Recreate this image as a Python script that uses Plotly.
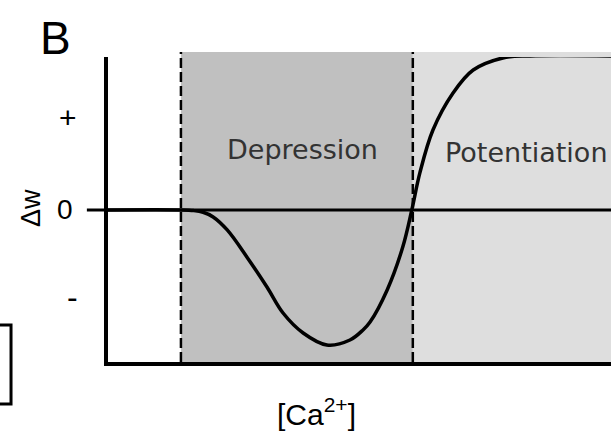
import plotly.graph_objects as go

# Calcium-dependent plasticity curve: change in synaptic weight vs [Ca2+]
ca = [0.0, 0.145, 0.170, 0.189, 0.209, 0.237, 0.276, 0.316, 0.348, 0.388,
      0.435, 0.481, 0.507, 0.521, 0.555, 0.586, 0.604, 0.620, 0.646, 0.686,
      0.726, 0.785, 0.839, 1.0]
dw = [0.0, 0.0, -0.004, -0.015, -0.045, -0.129, -0.303, -0.497, -0.665, -0.794,
      -0.871, -0.839, -0.774, -0.723, -0.516, -0.239, 0.0, 0.239, 0.516, 0.755,
      0.903, 0.981, 0.994, 0.994]

theta_d = 0.145   # depression threshold
theta_p = 0.606   # potentiation threshold

tick_vals = [0.594, 0.0, -0.56]
tick_text = ["+", "0", "-"]

W, H = 611, 439
L, R, T, B = 108, 0, 57, 77

fig = go.Figure()

fig.add_trace(go.Scatter(
    x=ca, y=dw, mode="lines",
    line=dict(color="black", width=3.5, shape="spline", smoothing=1.0),
    cliponaxis=False, hoverinfo="skip", showlegend=False,
))

shapes = [
    # shaded regions
    dict(type="rect", xref="x", yref="paper", x0=theta_d, x1=theta_p, y0=0, y1=1.016,
         fillcolor="#c0c0c0", line=dict(width=0), layer="below"),
    dict(type="rect", xref="x", yref="paper", x0=theta_p, x1=1.2, y0=0, y1=1.016,
         fillcolor="#dedede", line=dict(width=0), layer="below"),
    # threshold markers
    dict(type="line", xref="x", yref="paper", x0=theta_d, x1=theta_d, y0=0, y1=1.016,
         line=dict(color="black", width=2.5, dash="10px,4px")),
    dict(type="line", xref="x", yref="paper", x0=theta_p, x1=theta_p, y0=0, y1=1.016,
         line=dict(color="black", width=2.5, dash="10px,4px")),
    # zero line
    dict(type="line", xref="paper", yref="y", x0=-0.042, x1=1, y0=0, y1=0,
         line=dict(color="black", width=3)),
    # edge of neighbouring panel
    dict(type="path", xref="paper", yref="paper",
         path="M -0.2147 0.121 L -0.1928 0.121 L -0.1928 -0.138 L -0.2147 -0.138",
         line=dict(color="black", width=3)),
]

annotations = [
    dict(text="B", xref="paper", yref="paper", x=-0.105, y=1.062,
         xanchor="center", yanchor="middle", showarrow=False,
         font=dict(family="Liberation Sans", size=46, color="black")),
    dict(text="Depression", xref="x", yref="y", x=0.386, y=0.387,
         xanchor="center", yanchor="middle", showarrow=False,
         font=dict(family="DejaVu Sans", size=27, color="#333333")),
    dict(text="Potentiation", xref="x", yref="y", x=0.666, y=0.368,
         xanchor="left", yanchor="middle", showarrow=False,
         font=dict(family="DejaVu Sans", size=27, color="#333333")),
    dict(text="Δw", xref="paper", yref="y", x=(31 - L) / (W - L - R), y=0.013,
         textangle=-90, xanchor="center", yanchor="middle", showarrow=False,
         font=dict(family="Liberation Sans", size=27, color="black")),
    dict(text="[Ca<sup>2+</sup>]", xref="paper", yref="paper",
         x=(316 - L) / (W - L - R), y=-0.164,
         xanchor="center", yanchor="middle", showarrow=False,
         font=dict(family="Liberation Sans", size=30, color="black")),
]
tick_x = [68, 65, 72]
tick_size = [30, 28, 32]
for v, t, px, fs in zip(tick_vals, tick_text, tick_x, tick_size):
    annotations.append(dict(
        text=t, xref="paper", yref="y", x=(px - L) / (W - L - R), y=v,
        xanchor="center", yanchor="middle", showarrow=False,
        font=dict(family="Liberation Sans", size=fs, color="black")))

fig.update_layout(
    width=W, height=H, autosize=False,
    margin=dict(l=L, r=R, t=T, b=B, pad=0),
    paper_bgcolor="white", plot_bgcolor="white",
    shapes=shapes, annotations=annotations,
    xaxis=dict(range=[0, 1], showline=True, linecolor="black", linewidth=3.5,
               showgrid=False, zeroline=False, showticklabels=False, ticks=""),
    yaxis=dict(range=[-0.981, 0.987], showline=True, linecolor="black", linewidth=3.5,
               showgrid=False, zeroline=False, showticklabels=False, ticks=""),
)

fig.write_html("out.html")
